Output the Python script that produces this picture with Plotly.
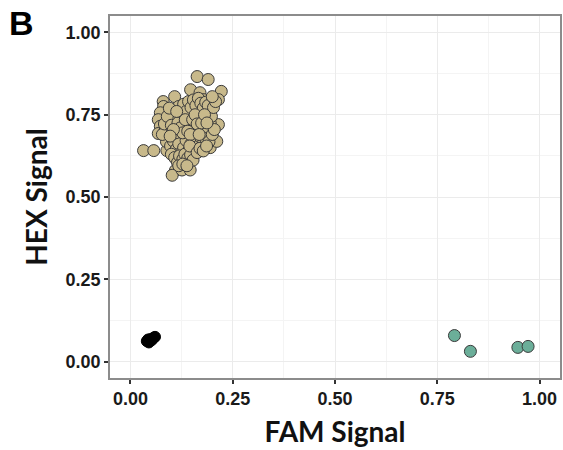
import plotly.graph_objects as go

# Cluster 1: HEX-positive (tan)
hex_x = [0.163,0.190,0.222,0.147,0.170,0.108,0.080,0.081,0.073,0.068,0.073,0.068,0.032,0.057,0.089,0.110,0.110,0.102,0.126,0.146,0.195,0.211,0.215,0.215,0.195,0.178,0.174,0.138,0.155,
         0.095,0.102,0.108,0.115,0.120,0.125,0.130,0.135,0.140,0.145,0.150,0.155,0.160,0.165,0.170,0.175,0.180,0.185,0.190,0.195,
         0.088,0.098,0.105,0.112,0.118,0.124,0.130,0.136,0.142,0.148,0.154,0.160,0.166,0.172,0.178,0.184,0.192,0.200,0.205,0.198,
         0.092,0.100,0.106,0.112,0.118,0.124,0.130,0.136,0.142,0.148,0.154,0.160,0.166,0.172,0.178,0.184,0.190,0.203,0.208,0.200,
         0.085,0.078,0.083,0.090,0.095,0.100,0.110,0.116,0.122,0.128,0.134,0.140,0.146,0.152,0.158,0.163,0.168,0.174,0.181,0.187,
         0.100,0.108,0.115,0.120,0.128,0.133,0.140,0.147,0.153,0.118,0.128,0.138,0.145,0.163,0.170,0.178,0.186,0.105,0.097,0.113]
hex_y = [0.866,0.857,0.821,0.826,0.817,0.805,0.790,0.775,0.756,0.735,0.715,0.693,0.641,0.641,0.641,0.617,0.581,0.566,0.582,0.582,0.650,0.669,0.720,0.796,0.796,0.796,0.650,0.660,0.680,
         0.700,0.688,0.722,0.705,0.690,0.740,0.712,0.695,0.728,0.705,0.750,0.720,0.698,0.740,0.710,0.765,0.735,0.700,0.760,0.725,
         0.668,0.655,0.670,0.645,0.662,0.635,0.650,0.672,0.640,0.662,0.645,0.668,0.655,0.680,0.662,0.678,0.668,0.690,0.705,0.745,
         0.730,0.745,0.760,0.740,0.775,0.758,0.782,0.760,0.790,0.772,0.795,0.778,0.800,0.785,0.770,0.788,0.778,0.772,0.790,0.805,
         0.705,0.690,0.722,0.745,0.770,0.718,0.695,0.725,0.710,0.695,0.735,0.700,0.690,0.735,0.750,0.722,0.690,0.725,0.750,0.725,
         0.630,0.620,0.605,0.625,0.615,0.630,0.618,0.628,0.612,0.595,0.600,0.595,0.655,0.635,0.648,0.640,0.655,0.705,0.685,0.760]

# Cluster 2: FAM-positive (teal)
fam_x = [0.792, 0.831, 0.947, 0.972]
fam_y = [0.079, 0.031, 0.043, 0.046]

# Cluster 3: negative (black)
neg_x = [0.040, 0.045, 0.048, 0.052, 0.060, 0.056, 0.043]
neg_y = [0.062, 0.058, 0.068, 0.065, 0.075, 0.072, 0.067]

tick_vals = [0.0, 0.25, 0.5, 0.75, 1.0]
tick_text = ["0.00", "0.25", "0.50", "0.75", "1.00"]

fig = go.Figure()
fig.add_trace(go.Scatter(x=hex_x, y=hex_y, mode="markers",
                         marker=dict(size=12, color="#C8B98B", line=dict(color="#3a3a3a", width=1))))
fig.add_trace(go.Scatter(x=fam_x, y=fam_y, mode="markers",
                         marker=dict(size=12, color="#6BAE99", line=dict(color="#3a3a3a", width=1))))
fig.add_trace(go.Scatter(x=neg_x, y=neg_y, mode="markers",
                         marker=dict(size=11, color="#000000", line=dict(color="#000000", width=1))))

axis_common = dict(
    range=[-0.05, 1.05], tickvals=tick_vals, ticktext=tick_text,
    showgrid=True, gridcolor="#EBEBEB", gridwidth=1,
    minor=dict(dtick=0.125, showgrid=True, gridcolor="#F4F4F4", gridwidth=1, ticks=""),
    showline=True, linecolor="#8C8C8C", linewidth=1.5, mirror=True,
    ticks="outside", ticklen=4, tickwidth=1.5, tickcolor="#333333",
    tickfont=dict(family="Liberation Sans", size=18, color="#1a1a1a", weight="bold"),
    zeroline=False,
)

fig.update_layout(
    width=563, height=450,
    margin=dict(l=110, r=1, t=16, b=72),
    plot_bgcolor="white", paper_bgcolor="white",
    showlegend=False,
    xaxis=dict(**axis_common,
               title=dict(text="<b>FAM Signal</b>", font=dict(family="Lato", size=28, color="#111111"), standoff=14)),
    yaxis=dict(**axis_common,
               title=dict(text="<b>HEX Signal</b>", font=dict(family="Lato", size=28, color="#111111"), standoff=10)),
    annotations=[dict(text="<b>B</b>", x=-103/452, y=1 + 14/362, xref="paper", yref="paper",
                      xanchor="left", yanchor="top", showarrow=False,
                      font=dict(family="Liberation Sans", size=34, color="#000000"))],
)

fig.write_html("out.html")
